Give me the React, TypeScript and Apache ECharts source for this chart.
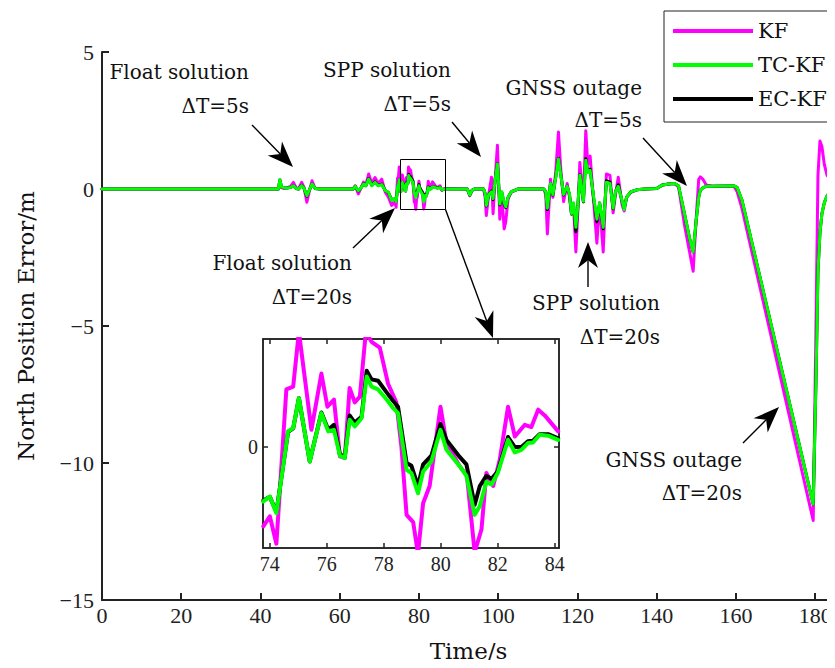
import React, { useEffect, useRef } from 'react';
import * as echarts from 'echarts';

// ---------- data ----------
const seriesNames = ['KF', 'TC-KF', 'EC-KF'];
const xTickValues = [0, 20, 40, 60, 80, 100, 120, 140, 160, 180];
const insetTickValues = [74, 76, 78, 80, 82, 84];

// main chart, before the zoomed window
const preTime = [0, 44.5, 44.9, 45.3, 45.8, 46.8, 47.6, 48.3, 49.0, 49.6, 50.4, 51.0, 51.7, 52.3, 53.0, 53.8, 55.0, 63.4, 63.9, 64.7, 65.4, 66.0, 66.6, 67.3, 68.1, 68.9, 69.7, 70.6, 71.5, 72.3, 73.1, 73.5];
const preKF = [0, 0, 0.1, 0.05, 0.02, 0.05, 0.1, 0.24, 0.05, 0.0, 0.24, 0.05, -0.48, -0.1, 0.3, 0.02, 0, 0, 0.12, -0.18, 0.05, 0.25, 0.15, 0.55, 0.2, 0.42, 0.2, 0.36, -0.12, -0.3, -0.6, -0.5];
const preTC = [0, 0, 0.34, 0.08, 0.05, 0.04, 0.06, 0.12, 0.02, 0.0, 0.12, 0.02, -0.24, -0.05, 0.18, 0.02, 0, 0, 0.1, -0.06, 0.05, 0.18, 0.12, 0.36, 0.12, 0.24, 0.12, 0.16, -0.06, -0.12, -0.42, -0.38];
const preEC = [0, 0, 0.33, 0.08, 0.05, 0.04, 0.06, 0.12, 0.02, 0.0, 0.13, 0.02, -0.26, -0.05, 0.18, 0.02, 0, 0, 0.1, -0.07, 0.05, 0.19, 0.12, 0.38, 0.13, 0.26, 0.13, 0.18, -0.06, -0.13, -0.4, -0.37];

// zoomed window 74-84 s
const insetTimeKF = [73.77, 74.0, 74.23, 74.58, 74.82, 75.02, 75.46, 75.81, 76.02, 76.25, 76.46, 76.63, 76.8, 76.98, 77.16, 77.37, 77.57, 77.86, 78.15, 78.44, 78.62, 78.8, 79.03, 79.2, 79.38, 79.61, 79.99, 80.2, 80.67, 80.92, 81.19, 81.43, 81.6, 81.84, 82.07, 82.36, 82.6, 82.95, 83.18, 83.42, 83.65, 84.12];
const insetKF = [-0.55, -0.48, -0.67, 0.4, 0.42, 0.8, 0.12, 0.51, 0.28, 0.33, -0.065, -0.076, 0.41, 0.31, 0.35, 0.8, 0.73, 0.69, 0.44, 0.31, 0.0, -0.47, -0.52, -0.74, -0.39, -0.27, 0.28, 0.028, -0.134, -0.2, -0.73, -0.57, -0.18, -0.27, -0.088, 0.28, 0.074, 0.155, 0.139, 0.26, 0.22, 0.109];
const insetTime = [73.77, 74.0, 74.23, 74.64, 74.82, 75.02, 75.4, 75.81, 76.05, 76.25, 76.46, 76.63, 76.8, 76.98, 77.22, 77.4, 77.57, 77.8, 78.1, 78.33, 78.5, 78.8, 78.97, 79.2, 79.38, 79.67, 79.99, 80.2, 80.67, 80.9, 81.19, 81.37, 81.6, 81.78, 82.0, 82.36, 82.6, 82.83, 83.06, 83.24, 83.47, 83.77, 84.12];
const insetTC = [-0.377, -0.343, -0.458, 0.109, 0.132, 0.34, -0.1, 0.236, 0.109, 0.12, -0.06, -0.076, 0.19, 0.144, 0.2, 0.49, 0.42, 0.4, 0.33, 0.27, 0.236, -0.157, -0.18, -0.32, -0.17, -0.1, 0.12, -0.019, -0.134, -0.2, -0.47, -0.41, -0.24, -0.26, -0.18, 0.05, -0.037, -0.019, 0.028, 0.032, 0.086, 0.079, 0.05];
const insetEC = [-0.37, -0.345, -0.45, 0.105, 0.13, 0.34, -0.1, 0.24, 0.12, 0.155, -0.05, -0.07, 0.22, 0.17, 0.21, 0.53, 0.47, 0.46, 0.38, 0.32, 0.28, -0.11, -0.13, -0.27, -0.12, -0.06, 0.16, 0.05, -0.07, -0.12, -0.4, -0.27, -0.2, -0.22, -0.17, 0.07, 0.0, 0.0, 0.04, 0.045, 0.09, 0.09, 0.06];

// main chart, after the zoomed window
const postTime = [84.6, 85.3, 85.8, 86.5, 92.2, 92.8, 93.4, 94.0, 96.3, 96.7, 97.0, 97.6, 98.3, 98.7, 99.2, 99.8, 100.4, 100.9, 101.5, 101.9, 102.5, 103.3, 104.2, 105.0, 111.5, 112.0, 112.4, 113.2, 113.8, 114.5, 115.2, 115.8, 116.5, 117.4, 118.0, 118.5, 119.0, 119.6, 120.1, 120.6, 121.5, 122.1, 122.6, 123.2, 124.0, 124.9, 125.6, 126.5, 127.3, 128.2, 129.0, 129.6, 130.3, 131.3, 131.8, 132.4, 133.5, 135.0, 137.0, 140.0, 141.5, 143.0, 144.5, 145.5, 147.0, 148.3, 149.2, 150.0, 150.6, 151.0, 151.7, 152.5, 154.0, 159.5, 160.3, 161.5, 179.5, 180.2, 180.7, 181.2, 181.7, 182.3, 183.0, 184.0, 185.0];
const postKF = [0.05, 0.12, -0.05, 0.02, 0, -0.25, -0.05, 0, 0, -0.3, -0.97, -0.2, 0.43, -0.9, 0.3, 1.6, -1.1, -0.2, -1.46, -1.2, -0.35, -0.12, -0.05, 0, 0, -0.2, -1.64, 0.36, -0.3, 0.6, 2.08, 0.7, -0.46, 0.2, -0.3, -0.9, -0.6, -2.3, -0.8, 0.97, -0.45, 2.13, 0.9, 1.2, -0.3, -1.98, -0.5, -2.3, 0.55, 0.5, -0.87, -0.2, 0.43, -0.6, -0.8, -0.3, -0.12, -0.03, 0, 0.02, 0.15, 0.18, 0.2, 0.08, -1.3, -2.3, -3.0, -1.0, 0.35, 0.44, 0.35, 0.15, 0.1, 0.1, -0.1, -0.7, -12.1, -5.0, 0.5, 1.75, 1.55, 0.9, 0.5, 0.3, 0.2];
const postTC = [0.03, 0.05, -0.03, 0, 0, -0.22, -0.05, 0, 0, -0.15, -0.6, -0.2, -0.1, -0.35, 0.3, 0.91, -0.55, -0.1, -0.5, -0.65, -0.3, -0.1, -0.05, 0, 0, -0.1, -0.7, 0.2, -0.2, 0.4, 1.1, 0.5, -0.2, 0.1, -0.2, -0.9, -0.5, -1.4, -0.6, 0.5, -0.45, 1.05, 0.6, 0.68, -0.2, -1.1, -0.5, -1.4, 0.25, 0.2, -0.7, -0.1, 0.1, -0.45, -0.75, -0.3, -0.1, -0.03, 0, 0.02, 0.15, 0.18, 0.2, 0.12, -0.9, -1.8, -2.3, -1.1, -0.3, -0.05, 0.05, 0.1, 0.1, 0.12, 0.05, -0.4, -11.5, -7.0, -3.0, -1.6, -0.9, -0.5, -0.25, -0.05, 0.0];
const postEC = [0.04, 0.06, -0.03, 0, 0, -0.22, -0.05, 0, 0, -0.16, -0.62, -0.2, -0.08, -0.38, 0.32, 0.92, -0.58, -0.12, -0.55, -0.68, -0.3, -0.1, -0.05, 0, 0, -0.1, -0.75, 0.2, -0.22, 0.42, 1.12, 0.52, -0.22, 0.1, -0.22, -0.92, -0.55, -1.56, -0.65, 0.52, -0.47, 1.1, 0.65, 0.72, -0.25, -1.2, -0.52, -1.45, 0.3, 0.25, -0.72, -0.1, 0.15, -0.48, -0.72, -0.3, -0.1, -0.03, 0, 0.02, 0.15, 0.18, 0.2, 0.12, -0.9, -1.8, -2.3, -1.1, -0.3, -0.05, 0.05, 0.1, 0.1, 0.12, 0.05, -0.4, -11.5, -7.0, -3.0, -1.6, -0.9, -0.5, -0.25, -0.05, 0.0];

// annotations: [first line, second line]
const annotationTexts = [
  ['Float solution', '\u0394T=5s'],
  ['SPP solution', '\u0394T=5s'],
  ['GNSS outage', '\u0394T=5s'],
  ['Float solution', '\u0394T=20s'],
  ['SPP solution', '\u0394T=20s'],
  ['GNSS outage', '\u0394T=20s'],
];

// ---------- helpers ----------
const TEXT_FONT = "'DejaVu Serif', 'Liberation Serif', serif";
const NUM_FONT = "'Liberation Serif', 'DejaVu Serif', serif";
const COLORS = { KF: '#ff00ff', TC: '#00ff00', EC: '#000000' };
const AXIS_COLOR = '#222222';

const pairs = (t: number[], v: number[]) => t.map((x, i) => [x, v[i]]);
const fmtMinus = (v: number) => (v < 0 ? '\u2212' + Math.abs(v) : String(v));

function arrow(x1: number, y1: number, x2: number, y2: number) {
  const dx = x2 - x1;
  const dy = y2 - y1;
  const len = Math.hypot(dx, dy);
  const ux = dx / len;
  const uy = dy / len;
  const nx = -uy;
  const ny = ux;
  const L = 26;
  const W = 10;
  const bx = x2 - ux * L;
  const by = y2 - uy * L;
  const mx = x2 - ux * L * 0.7;
  const my = y2 - uy * L * 0.7;
  return [
    {
      type: 'line',
      z: 100,
      shape: { x1, y1, x2: mx, y2: my },
      style: { stroke: '#000', lineWidth: 1.4 },
    },
    {
      type: 'polygon',
      z: 100,
      shape: {
        points: [
          [x2, y2],
          [bx + nx * W, by + ny * W],
          [mx, my],
          [bx - nx * W, by - ny * W],
        ],
      },
      style: { fill: '#000' },
    },
  ];
}

function label(lines: string[], rightX: number, y1: number, y2: number) {
  return lines.map((t, i) => ({
    type: 'text',
    z: 100,
    x: rightX,
    y: i === 0 ? y1 : y2,
    style: {
      text: t,
      fill: '#111',
      fontFamily: TEXT_FONT,
      fontSize: 20,
      textAlign: 'right',
      textVerticalAlign: 'middle',
    },
  }));
}

export default function App() {
  const ref = useRef<HTMLDivElement>(null);

  useEffect(() => {
    if (!ref.current) return;
    const chart = echarts.init(ref.current, null, { renderer: 'svg' });

    const mainKF = [...pairs(preTime, preKF), ...pairs(insetTimeKF, insetKF), ...pairs(postTime, postKF)];
    const mainTC = [...pairs(preTime, preTC), ...pairs(insetTime, insetTC), ...pairs(postTime, postTC)];
    const mainEC = [...pairs(preTime, preEC), ...pairs(insetTime, insetEC), ...pairs(postTime, postEC)];

    const lineSeries = (name: string, data: number[][], color: string, z: number, grid: number, width: number) => ({
      name,
      type: 'line',
      xAxisIndex: grid === 0 ? 0 : 1,
      yAxisIndex: grid === 0 ? 0 : 1,
      data,
      symbol: 'none',
      showSymbol: false,
      z,
      lineStyle: { color, width, join: 'round', cap: 'round' },
      itemStyle: { color },
      clip: true,
    });

    const tickLabelStyle = { fontFamily: NUM_FONT, fontSize: 22, color: AXIS_COLOR };
    const axisLine = { show: true, onZero: false, lineStyle: { color: AXIS_COLOR, width: 2 } };

    const graphic: any[] = [
      ...label(annotationTexts[0], 249, 72, 106),
      ...label(annotationTexts[1], 451, 70, 104),
      ...label(annotationTexts[2], 642, 88, 120),
      ...label(annotationTexts[3], 352, 263, 297),
      ...label(annotationTexts[4], 660, 303, 337),
      ...label(annotationTexts[5], 742, 460, 493),
      ...arrow(252, 125, 293, 167),
      ...arrow(452, 122, 481, 157),
      ...arrow(643, 138, 687, 186),
      ...arrow(353, 248, 395, 208),
      ...arrow(588, 287, 588, 242),
      ...arrow(743, 443, 779, 407),
      {
        type: 'rect',
        z: 100,
        shape: { x: 400.5, y: 159.5, width: 45, height: 50 },
        style: { fill: 'none', stroke: '#000', lineWidth: 1 },
      },
      ...arrow(445.5, 209.5, 493, 338),
    ];

    chart.setOption({
      animation: false,
      backgroundColor: '#fff',
      legend: {
        data: seriesNames.map((n) => ({ name: n, icon: 'rect' })),
        orient: 'vertical',
        left: 664,
        top: 11,
        padding: [9, 30, 12, 9],
        itemWidth: 80,
        itemHeight: 4,
        itemGap: 12,
        borderColor: AXIS_COLOR,
        borderWidth: 1,
        backgroundColor: '#fff',
        textStyle: { fontFamily: TEXT_FONT, fontSize: 21, lineHeight: 22, color: '#111' },
      },
      grid: [
        { left: 102, top: 52, right: 0, bottom: 68, show: false },
        {
          left: 263,
          top: 339,
          width: 296,
          height: 209,
          show: true,
          backgroundColor: '#fff',
          borderColor: AXIS_COLOR,
          borderWidth: 1.5,
          z: 5,
        },
      ],
      xAxis: [
        {
          type: 'value',
          gridIndex: 0,
          min: 0,
          max: 185,
          interval: 20,
          name: 'Time/s',
          nameLocation: 'middle',
          nameGap: 39,
          nameTextStyle: { fontFamily: TEXT_FONT, fontSize: 23, color: '#111' },
          axisLine,
          axisTick: { show: true, inside: true, length: 7, customValues: xTickValues, lineStyle: { color: AXIS_COLOR, width: 2 } },
          axisLabel: { ...tickLabelStyle, margin: 4, customValues: xTickValues },
          splitLine: { show: false },
        },
        {
          type: 'value',
          gridIndex: 1,
          min: 73.76,
          max: 84.15,
          position: 'bottom',
          z: 6,
          axisLine: { show: true, onZero: false, lineStyle: { color: AXIS_COLOR, width: 1.5 } },
          axisTick: { show: true, inside: true, length: 5, customValues: insetTickValues, lineStyle: { color: AXIS_COLOR, width: 1.5 } },
          axisLabel: { fontFamily: NUM_FONT, fontSize: 20, color: AXIS_COLOR, margin: 6, customValues: insetTickValues },
          splitLine: { show: false },
        },
        {
          type: 'value',
          gridIndex: 1,
          min: 73.76,
          max: 84.15,
          position: 'top',
          z: 6,
          axisLine: { show: true, onZero: false, lineStyle: { color: AXIS_COLOR, width: 1.5 } },
          axisTick: { show: true, inside: true, length: 5, customValues: insetTickValues, lineStyle: { color: AXIS_COLOR, width: 1.5 } },
          axisLabel: { show: false },
          splitLine: { show: false },
        },
      ],
      yAxis: [
        {
          type: 'value',
          gridIndex: 0,
          min: -15,
          max: 5,
          interval: 5,
          name: 'North Position Error/m',
          nameLocation: 'middle',
          nameGap: 65,
          nameTextStyle: { fontFamily: TEXT_FONT, fontSize: 23, color: '#111' },
          axisLine,
          axisTick: { show: true, inside: true, length: 7, lineStyle: { color: AXIS_COLOR, width: 2 } },
          axisLabel: { ...tickLabelStyle, margin: 8, formatter: fmtMinus },
          splitLine: { show: false },
        },
        {
          type: 'value',
          gridIndex: 1,
          min: -0.7,
          max: 0.75,
          position: 'left',
          z: 6,
          axisLine: { show: true, onZero: false, lineStyle: { color: AXIS_COLOR, width: 1.5 } },
          axisTick: { show: true, inside: true, length: 5, customValues: [0], lineStyle: { color: AXIS_COLOR, width: 1.5 } },
          axisLabel: { fontFamily: NUM_FONT, fontSize: 20, color: AXIS_COLOR, margin: 5, customValues: [0] },
          splitLine: { show: false },
        },
        {
          type: 'value',
          gridIndex: 1,
          min: -0.7,
          max: 0.75,
          position: 'right',
          z: 6,
          axisLine: { show: true, onZero: false, lineStyle: { color: AXIS_COLOR, width: 1.5 } },
          axisTick: { show: true, inside: true, length: 5, customValues: [0], lineStyle: { color: AXIS_COLOR, width: 1.5 } },
          axisLabel: { show: false },
          splitLine: { show: false },
        },
      ],
      series: [
        lineSeries('KF', mainKF, COLORS.KF, 2, 0, 3),
        lineSeries('EC-KF', mainEC, COLORS.EC, 3, 0, 3),
        lineSeries('TC-KF', mainTC, COLORS.TC, 4, 0, 3),
        lineSeries('KF', pairs(insetTimeKF, insetKF), COLORS.KF, 7, 1, 4),
        lineSeries('EC-KF', pairs(insetTime, insetEC), COLORS.EC, 8, 1, 4),
        lineSeries('TC-KF', pairs(insetTime, insetTC), COLORS.TC, 9, 1, 4),
      ],
      graphic,
    });

    return () => chart.dispose();
  }, []);

  return <div ref={ref} style={{ width: 835, height: 668, margin: -8 }} />;
}
